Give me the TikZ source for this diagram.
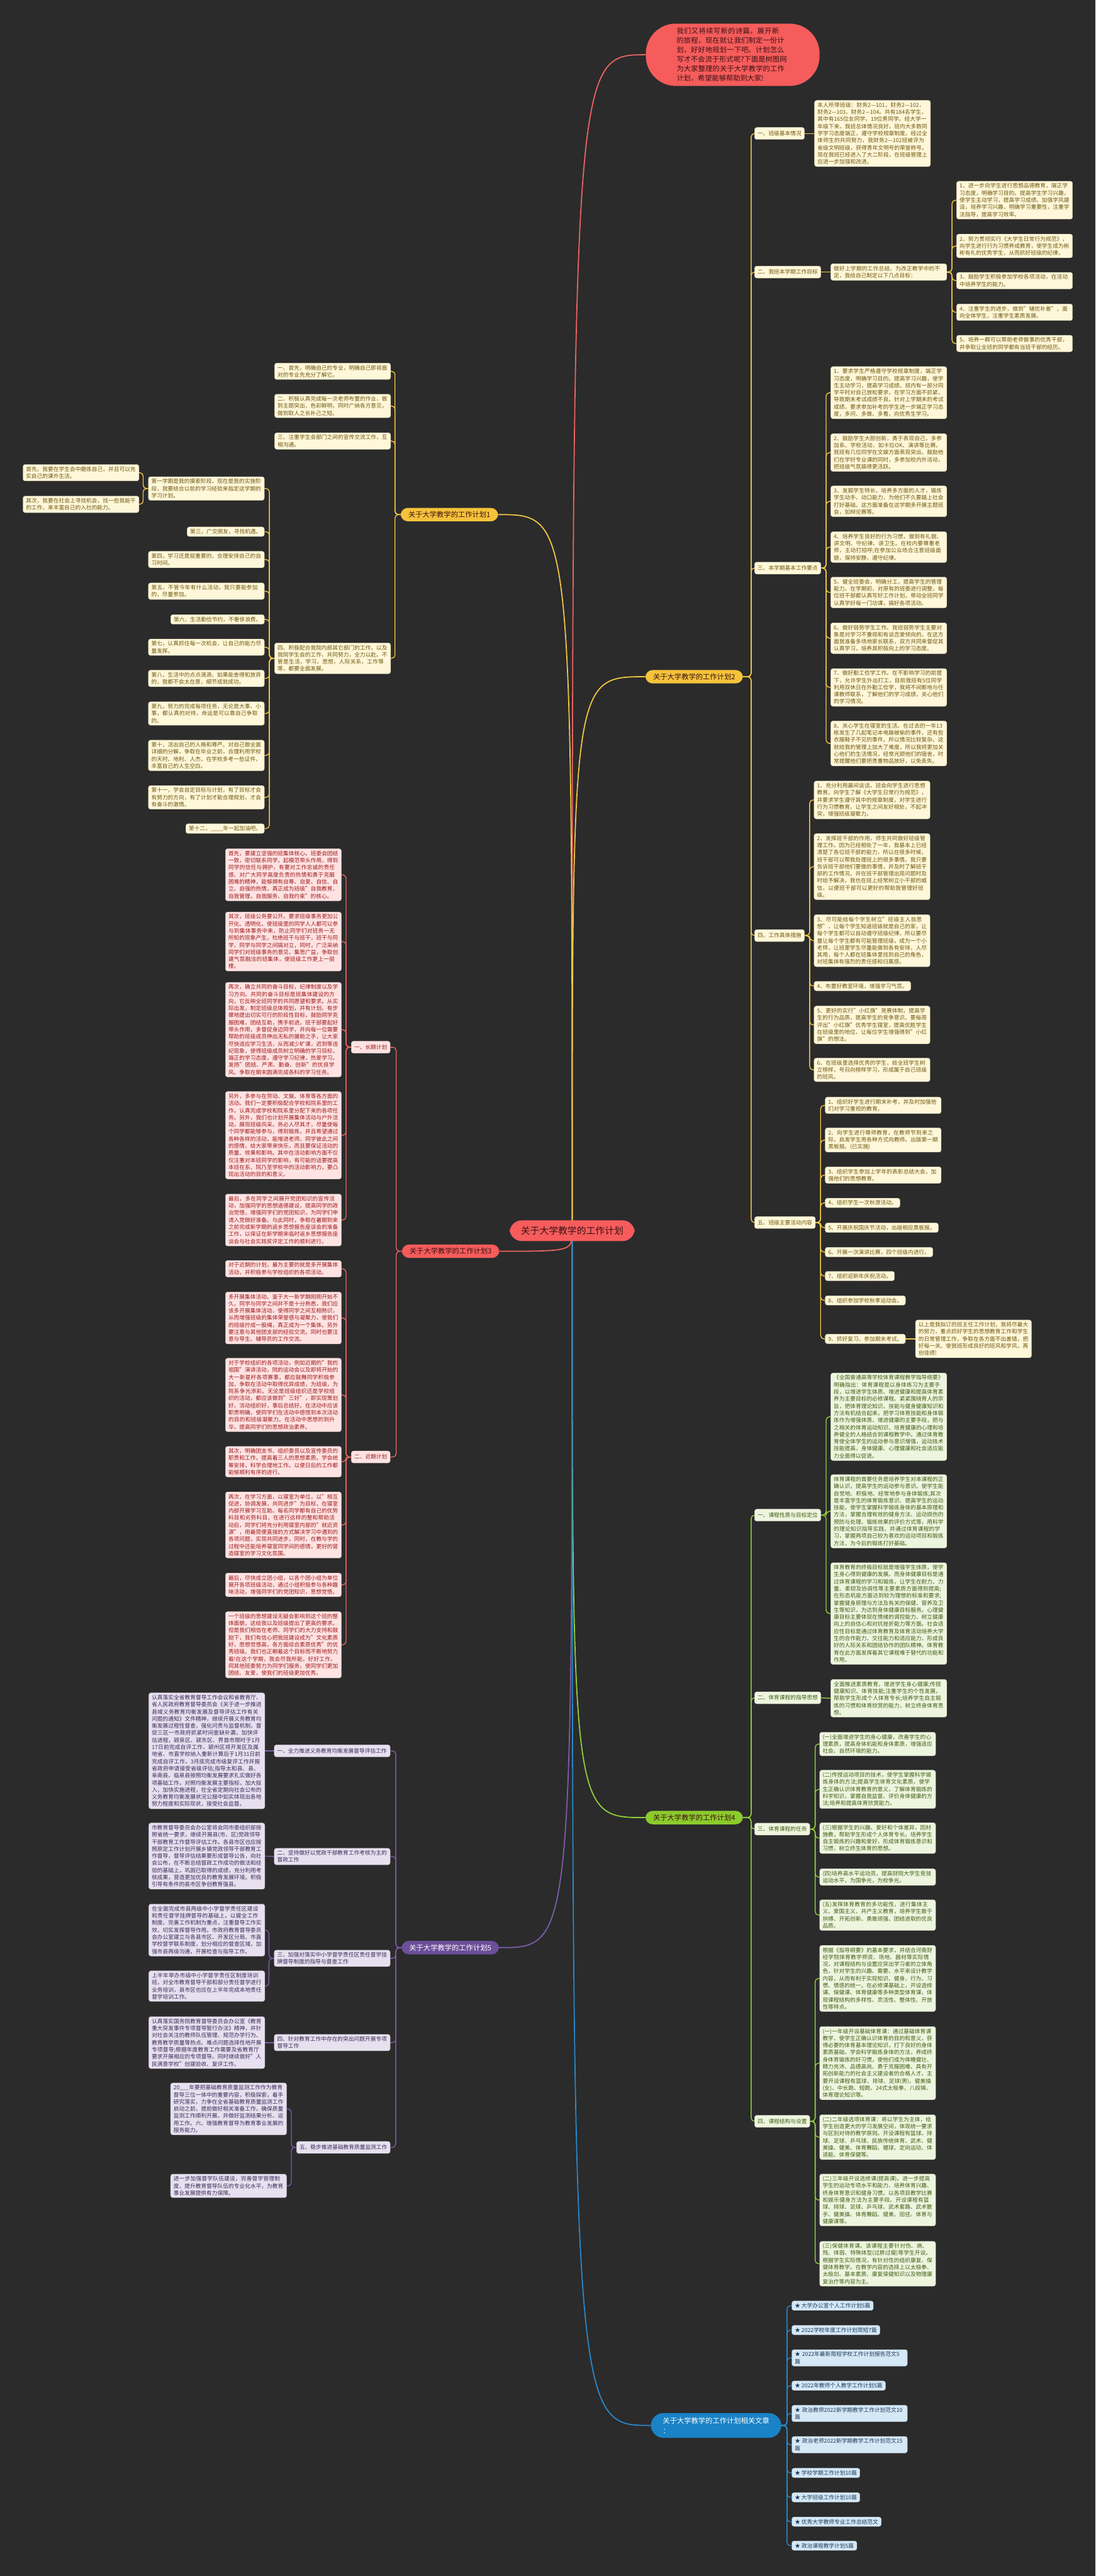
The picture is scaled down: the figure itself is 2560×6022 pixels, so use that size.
\documentclass[tikz,border=0pt]{standalone}
\usepackage{fontspec}
\setmainfont{Noto Sans CJK SC}
\XeTeXlinebreaklocale "zh"
\XeTeXlinebreakskip=0pt plus 1pt
\usepackage{tikz}
\usetikzlibrary{positioning, backgrounds}
\definecolor{bgdark}{HTML}{2B2B2B}
\definecolor{tyellow}{HTML}{F5C33B}
\definecolor{tyelline}{HTML}{F2C744}
\definecolor{tyellight}{HTML}{FFF7D9}
\definecolor{tyeltext}{HTML}{6E5710}
\definecolor{tred}{HTML}{F65C5C}
\definecolor{tredline}{HTML}{EC6464}
\definecolor{tredlight}{HTML}{FFE3E3}
\definecolor{tredtext}{HTML}{9E1B1B}
\definecolor{tdark}{HTML}{3A1010}
\definecolor{tgreen}{HTML}{8CCB2C}
\definecolor{tgreenline}{HTML}{93D03C}
\definecolor{tgreenlight}{HTML}{EEF5DF}
\definecolor{tgreentext}{HTML}{3F5E14}
\definecolor{tpurple}{HTML}{6B4F99}
\definecolor{tpurpleline}{HTML}{7C5EAA}
\definecolor{tpurplelight}{HTML}{E6E0EF}
\definecolor{tpurpletext}{HTML}{3B2B58}
\definecolor{tblue}{HTML}{1A82C6}
\definecolor{tblueline}{HTML}{2A88CC}
\definecolor{tbluelight}{HTML}{D5E8F6}
\definecolor{tbluetext}{HTML}{1C3A58}

\begin{document}
\begin{tikzpicture}[x=1pt, y=-1pt,
    leaf/.style={rounded corners=5pt, inner xsep=7pt, inner ysep=5pt, align=left, font=\fontsize{12.8}{16.6}\selectfont},
    wide/.style={text width=257pt},
    lab/.style={leaf, minimum height=28pt},
    yleaf/.style={leaf, fill=tyellight, text=tyeltext, draw=tyellight!85!black, line width=0.6pt},
    rleaf/.style={leaf, fill=tredlight, text=tredtext, draw=tredlight!85!black, line width=0.6pt},
    gleaf/.style={leaf, fill=tgreenlight, text=tgreentext, draw=tgreenlight!85!black, line width=0.6pt},
    pleaf/.style={leaf, fill=tpurplelight, text=tpurpletext, draw=tpurplelight!85!black, line width=0.6pt},
    bleaf/.style={leaf, fill=tbluelight, text=tbluetext, draw=tbluelight!85!black, line width=0.6pt},
    branch/.style={rounded corners=17pt, inner xsep=18pt, inner ysep=8pt, font=\fontsize{16.6}{20}\selectfont},
    link/.style={line width=2pt, rounded corners=8pt},
    mainlink/.style={line width=2.6pt}]

  \useasboundingbox (0,0) rectangle (2560,6022);

  % centre and intro
  \node[fill=tred, text=tdark, rounded corners=28pt, inner xsep=26pt, inner ysep=14pt, font=\fontsize{21.8}{26}\selectfont]
    (root) at (1337,2877) {关于大学教学的工作计划};
  \node[fill=tred, text=tdark, rounded corners=70pt, text width=262pt, inner xsep=72pt, inner ysep=10pt, align=left,
    font=\fontsize{16.5}{22}\selectfont, anchor=north west]
    (intro) at (1509,55) {我们又将续写新的诗篇，展开新的旅程，现在就让我们制定一份计划，好好地规划一下吧。计划怎么写才不会流于形式呢?下面是树图网为大家整理的关于大学教学的工作计划，希望能够帮助到大家!};

  % plan 1 (left, yellow)
  \node[branch, fill=tyellow, text=tdark, anchor=west] (plan1) at (936,1203) {关于大学教学的工作计划1};
  \node[yleaf, wide, anchor=east] (p1a) at (913,868) {一、首先，明确自己的专业，明确自己即将面对的专业先充分了解它。};
  \node[yleaf, wide, anchor=east] (p1b) at (913,949) {二、积极认真完成每一次老师布置的作业，做到主题突出，色彩鲜明，同时广纳各方意见，做到取人之长补己之短。};
  \node[yleaf, wide, anchor=east] (p1c) at (913,1031) {三、注重学生会部门之间的宣传交流工作，互相沟通。};
  \node[yleaf, wide, anchor=east] (p1d) at (913,1539) {四、积极配合我院内部其它部门的工作，以及我院学生会的工作，共同努力，全力以赴。不管是生活，学习，思想，人际关系，工作等等，都要全面发展。};
  \node[yleaf, wide, anchor=east] (p1d1) at (618,1142) {第一学期是我的摸索阶段，现在是我的实施阶段，我要结合以前的学习经验来指定这学期的学习计划。};
  \node[yleaf, anchor=east] (p1d2) at (618,1243) {第三，广交朋友，寻找机遇。};
  \node[yleaf, wide, anchor=east] (p1d3) at (618,1308) {第四，学习还是挺重要的，合理安排自己的自习时间。};
  \node[yleaf, wide, anchor=east] (p1d4) at (618,1382) {第五，不管今年有什么活动，我只要能参加的，尽量参加。};
  \node[yleaf, anchor=east] (p1d5) at (618,1448) {第六，生活勤俭节约，不奢侈浪费。};
  \node[yleaf, wide, anchor=east] (p1d6) at (618,1513) {第七，认真抓住每一次机会，让自己的能力尽量发挥。};
  \node[yleaf, wide, anchor=east] (p1d7) at (618,1586) {第八，生活中的点点滴滴，如果能舍得和放弃的，我都不会太在意，细节成就成功。};
  \node[yleaf, wide, anchor=east] (p1d8) at (618,1668) {第九，努力的完成每项任务，无论是大事、小事，都认真的对待，命运是可以靠自己争取的。};
  \node[yleaf, wide, anchor=east] (p1d9) at (618,1766) {第十，活出自己的人格和尊严。对自己做全面详细的分解，争取在毕业之前，合理利用学校的天时、地利、人杰，在学校多考一些证件，丰富自己的人生空白。};
  \node[yleaf, wide, anchor=east] (p1d10) at (618,1864) {第十一，学会自定目标与计划，有了目标才会有努力的方向，有了计划才能合理规划，才会有奋斗的激情。};
  \node[yleaf, anchor=east] (p1d11) at (618,1937) {第十二，\_\_\_\_年一起加油吧。};
  \node[yleaf, wide, anchor=east] (p1e) at (325,1105) {首先，我要在学生会中磨炼自己，并且可以充实自己的课外生活。};
  \node[yleaf, wide, anchor=east] (p1f) at (325,1179) {其次，我要在社会上寻找机会，找一些我能干的工作，来丰富自己的入社的能力。};

  % plan 2 (right, yellow)
  \node[branch, fill=tyellow, text=tdark, anchor=west] (plan2) at (1508,1582) {关于大学教学的工作计划2};
  \node[yleaf, lab, anchor=west] (p2a) at (1763,312) {一、班级基本情况};
  \node[yleaf, lab, anchor=west] (p2b) at (1763,636) {二、我班本学期工作目标};
  \node[yleaf, lab, anchor=west] (p2c) at (1763,1328) {三、本学期基本工作要点};
  \node[yleaf, lab, anchor=west] (p2d) at (1763,2187) {四、工作具体措施};
  \node[yleaf, lab, anchor=west] (p2e) at (1763,2858) {五、班级主要活动内容};
  \node[yleaf, wide, anchor=west] (p2a1) at (1903,312) {本人所带班级：财务2—101，财务2—102，财务2—103，财务2—104。共有184名学生，其中有165位女同学，19位男同学。经大学一年级下来，我班总体情况良好，班内大多数同学学习态度端正，遵守学校规章制度。经过全体师生的共同努力，我财务2—102班被评为省级文明班级，获得青年文明号的荣誉称号。现在我班已经进入了大二阶段，在班级管理上应进一步加强和改进。};
  \node[yleaf, wide, anchor=west] (p2b1) at (1941,636) {做好上学期的工作总结，为改正教学中的不足，我给自己制定以下几点目标：};
  \node[yleaf, wide, anchor=west] (p2g1) at (2235,468) {1、进一步向学生进行思想品德教育，端正学习态度，明确学习目的。提高学生学习兴趣，使学生主动学习，提高学习成绩。加强学风建设，培养学习兴趣，明确学习重要性，注重学法指导，提高学习效率。};
  \node[yleaf, wide, anchor=west] (p2g2) at (2235,575) {2、努力贯彻实行《大学生日常行为规范》，向学生进行行为习惯养成教育，使学生成为彬彬有礼的优秀学生，从而抓好班级的纪律。};
  \node[yleaf, wide, anchor=west] (p2g3) at (2235,656) {3、鼓励学生积极参加学校各项活动，在活动中培养学生的能力。};
  \node[yleaf, wide, anchor=west] (p2g4) at (2235,730) {4、注重学生的进步，做到"辅优补差"，面向全体学生，注重学生素质发展。};
  \node[yleaf, wide, anchor=west] (p2g5) at (2235,803) {5、培养一群可以帮助老师做事的优秀干部，并争取让全班的同学都有当班干部的经历。};
  \node[yleaf, wide, anchor=west] (p2c1) at (1941,918) {1、要求学生严格遵守学校规章制度，端正学习态度，明确学习目的。提高学习兴趣，使学生主动学习，提高学习成绩。班内有一部分同学平时对自己放松要求，在学习方面不抓紧，导致期末考试成绩不良。针对上学期末的考试成绩，要求参加补考的学生进一步端正学习态度，多问、多做、多看，向优秀生学习。};
  \node[yleaf, wide, anchor=west] (p2c2) at (1941,1058) {2、鼓励学生大胆创新，勇于表现自己，多参加系、学校活动，如卡拉OK、演讲等比赛。我班有几位同学在文娱方面表现突出，鼓励他们在学好专业课的同时，多参加校内外活动，把班级气氛搞得更活跃。};
  \node[yleaf, wide, anchor=west] (p2c3) at (1941,1172) {3、发掘学生特长，培养多方面的人才，锻炼学生动手、动口能力，为他们不久要踏上社会打好基础。这方面准备在这学期多开展主题班会，如辩论赛等。};
  \node[yleaf, wide, anchor=west] (p2c4) at (1941,1279) {4、培养学生良好的行为习惯，做到有礼貌、讲文明、守纪律、讲卫生。在校内要尊重老师，主动打招呼;在参加公众场合注意班级面貌，保持安静，遵守纪律。};
  \node[yleaf, wide, anchor=west] (p2c5) at (1941,1385) {5、健全班委会，明确分工，提高学生的管理能力。在学期初，对原有的班委进行调整，每位班干部都认真写好工作计划，带动全班同学认真学好每一门功课，搞好各项活动。};
  \node[yleaf, wide, anchor=west] (p2c6) at (1941,1492) {6、做好弱势学生工作。我班弱势学生主要对象是对学习不重视和有谈恋爱倾向的，在这方面我准备多场地家长联系，双方共同来督促其认真学习，培养其积极向上的学习态度。};
  \node[yleaf, wide, anchor=west] (p2c7) at (1941,1607) {7、做好勤工俭学工作。在不影响学习的前提下，允许学生外出打工，目前我班有5位同学利用双休日在外勤工俭学，我将不间断地与任课教师联系，了解他们的学习成绩，关心他们的学习情况。};
  \node[yleaf, wide, anchor=west] (p2c8) at (1941,1738) {8、关心学生在寝室的生活。在过去的一年13栋发生了几起笔记本电脑被偷的事件，还有些衣服鞋子不见的事件。所以情况比较复杂。这就给我的管理上加大了难度，所以我将更加关心他们的生活情况，经常光顾他们的宿舍，时常提醒他们要把贵重物品放好，以免丢失。};
  \node[yleaf, wide, anchor=west] (p2d1) at (1902,1870) {1、充分利用晨间谈话，班会向学生进行思想教育。向学生了解《大学生日常行为规范》，并要求学生遵守其中的规章制度，对学生进行行为习惯教育。让学生之间友好相处，不起冲突，增强班级凝聚力。};
  \node[yleaf, wide, anchor=west] (p2d2) at (1902,2026) {2、发挥班干部的作用，师生共同做好班级管理工作。因为已经相处了一年，我基本上已经清楚了各位班干部的能力，所以在很多时候，班干部可以帮我处理班上的很多事情。我只要告诉班干部他们要做的事情，并及时了解班干部的工作情况，并在班干部管理出现问题时及时给予解决，我也在班上经常树立小干部的威信，以便班干部可以更好的帮助我管理好班级。};
  \node[yleaf, wide, anchor=west] (p2d3) at (1902,2199) {3、尽可能给每个学生树立"班级主人翁思想"，让每个学生知道班级就是自己的家，让每个学生都可以自动遵守班级纪律，所以要尽量让每个学生都有可能管理班级，成为一个小老师，让班里学生尽量能做到各有安排，人尽其用，每个人都在班集体里找到自己的角色，对班集体有强烈的责任感和归属感。};
  \node[yleaf, anchor=west] (p2d4) at (1902,2305) {4、布置好教室环境，增强学习气氛。};
  \node[yleaf, wide, anchor=west] (p2d5) at (1902,2396) {5、更好的实行"小红旗"竞赛体制，提高学生的行为品质，提高学生的竞争意识。要每周评出"小红旗"优秀学生寝室，提高优胜学生在班级里的地位，让每位学生增强得到"小红旗"的想法。};
  \node[yleaf, wide, anchor=west] (p2d6) at (1902,2501) {6、在班级里选择优秀的学生，给全班学生树立榜样，号召向榜样学习，形成属于自己班级的班风。};
  \node[yleaf, wide, anchor=west] (p2e1) at (1928,2584) {1、组织好学生进行期末补考，并及时加强他们对学习重视的教育。};
  \node[yleaf, wide, anchor=west] (p2e2) at (1928,2665) {2、向学生进行尊师教育，在教师节到来之际，启发学生用各种方式向教师。出版第一期黑板报。(已实施)};
  \node[yleaf, wide, anchor=west] (p2e3) at (1928,2747) {3、组织学生参加上学年的表彰总结大会，加强他们的思想教育。};
  \node[yleaf, anchor=west] (p2e4) at (1928,2812) {4、组织学生一次秋游活动。};
  \node[yleaf, anchor=west] (p2e5) at (1928,2870) {5、开展庆祝国庆节活动，出版相应黑板报。};
  \node[yleaf, anchor=west] (p2e6) at (1928,2927) {6、开展一次演讲比赛，四个班级内进行。};
  \node[yleaf, anchor=west] (p2e7) at (1928,2983) {7、组织迎新年庆祝活动。};
  \node[yleaf, anchor=west] (p2e8) at (1928,3040) {8、组织参加学校秋季运动会。};
  \node[yleaf, anchor=west] (p2e9) at (1928,3130) {9、抓好复习，参加期末考试。};
  \node[yleaf, wide, anchor=west] (p2e9a) at (2139,3130) {以上是我拟订的班主任工作计划，我将尽最大的努力，重点抓好学生的思想教育工作和学生的日常管理工作，争取在各方面不出差错，把好每一关。使我班形成良好的班风和学风，再创佳绩!};

  % plan 3 (left, red)
  \node[branch, fill=tred, text=tdark, anchor=east] (plan3) at (1167,2925) {关于大学教学的工作计划3};
  \node[rleaf, lab, anchor=east] (p3a) at (912,2448) {一、长期计划};
  \node[rleaf, lab, anchor=east] (p3b) at (912,3406) {二、近期计划};
  \node[rleaf, wide, anchor=east] (p3a1) at (798,2045) {首先，要建立坚强的班集体核心。班委会团结一致，密切联系同学，起模范带头作用，得到同学的信任与拥护，有要对工作忠诚的责任感、对广大同学高度负责的热情和勇于克服困难的精神，能够拥有自尊、自爱、自信、自立、自强的热情，真正成为班级"自我教育，自我管理，自我服务、自我约束"的核心。};
  \node[rleaf, wide, anchor=east] (p3a2) at (798,2201) {其次，班级公务要公开。要求班级事务更加公开化、透明化，使班级里的同学人人都可以参与到集体事务中来，防止同学们对班务一无所知的现象产生，杜绝班干与班干，班干与同学，同学与同学之间搞对立，同时，广泛采纳同学们对班级事务的意见，集思广益，争取创建气氛融洽的班集体，使班级工作更上一层楼。};
  \node[rleaf, wide, anchor=east] (p3a3) at (798,2407) {再次，确立共同的奋斗目标，纪律制度以及学习方向。共同的奋斗目标是班集体建设的方向，它反映全班同学的共同愿望和要求。从实际出发，制定班级总体规划，并有计划、有步骤地提出切实可行的阶段性目标，鼓励同学克服困难，团结互助，携手前进。班干部要起好带头作用，多督促身边同学，并向每一位需要帮助的班级成员伸出无私的援助之手，让大家尽快适应学习生活，从而减少旷课，迟到等违纪现象，使得班级成员树立明确的学习目标，端正的学习态度，遵守学习纪律，热爱学习。发扬"团结、严肃、勤奋、创新"的优良学风。争取在期末圆满完成各科的学习任务。};
  \node[rleaf, wide, anchor=east] (p3a4) at (798,2654) {另外，多参与在劳动、文娱、体育等各方面的活动。我们一定要积极配合学校和院系里的工作，认真完成学校和院系里分配下来的各项任务。另外，我们也计划开展集体活动与户外活动，展现班级风采。务必人尽其才，尽量使每个同学都能够参与，得到锻炼，并且希望通过各种各样的活动，能增进老师、同学彼此之间的感情，给大家带来快乐，而且要保证活动的质量、效果和影响。其中在活动影响方面不仅仅注重对本班同学的影响，有可能的话要提高本班在系、院乃至学校中的活动影响力，要凸现出活动的目的和意义。};
  \node[rleaf, wide, anchor=east] (p3a5) at (798,2852) {最后，多在同学之间展开党团知识的宣传活动，加强同学的思想道德建设，提高同学的政治觉悟，增强同学们的党团知识，为同学们申请入党做好准备。与此同时，争取在暑期到来之前完成新学期的返乡思想报告座谈会的准备工作，以保证在新学期来临时返乡思想报告座谈会与社会实践奖评定工作的顺利进行。};
  \node[rleaf, wide, anchor=east] (p3b1) at (798,2966) {对于近期的计划，最为主要的就是多开展集体活动，并积极参与学校组织的各项活动。};
  \node[rleaf, wide, anchor=east] (p3b2) at (798,3081) {多开展集体活动。鉴于大一新学期刚刚开始不久，同学与同学之间并不是十分熟悉，我们应该多开展集体活动，使得同学之间互相熟识，从而增强班级的集体荣誉感与凝聚力，使我们的班级拧成一股绳，真正成为一个集体。另外要注意与其他团支部的经验交流，同时也要注意与导生、辅导员的工作交流。};
  \node[rleaf, wide, anchor=east] (p3b3) at (798,3261) {对于学校组织的各项活动，例如近期的"我的祖国"演讲活动，院的运动会以及即将开始的大一新星杯各项赛事，都应鼓舞同学积极参加，争取在活动中取得优异成绩，为班级，为院系争光添彩。无论是班级组织还是学校组织的活动，都应该做到"三好"，即实现策划好，活动组织好，事后总结好。在活动中应该职责明确，使同学们在活动中感悟到本次活动的目的和班级凝聚力。在活动中思想的到升华，提高同学们的思想政治素养。};
  \node[rleaf, wide, anchor=east] (p3b4) at (798,3417) {其次，明确团支书、组织委员以及宣传委员的职责和工作。提高着三人的思想素质。学会统筹安排，科学合理地工作。以便日后的工作都能够顺利有序的进行。};
  \node[rleaf, wide, anchor=east] (p3b5) at (798,3565) {再次，在学习方面，以寝室为单位，以"相互促进，协调发展，共同进步"为目标，在寝室内部开展学习互助。每名同学都有自己的优势科目和劣势科目，在进行这样的整和帮助活动后，同学们将充分利用寝室内部的"就近资源"，用最简便直接的方式解决学习中遇到的各项问题，实现共同进步。同时，在教与学的过程中还能培养寝室同学间的感情，更好的营造寝室的学习文化氛围。};
  \node[rleaf, wide, anchor=east] (p3b6) at (798,3705) {最后，尽快成立团小组，以各个团小组为单位展开各项班级活动，通过小组积极参与各种趣味活动，增强同学们的党团知识，思想觉悟。};
  \node[rleaf, wide, anchor=east] (p3b7) at (798,3845) {一个班级的思想建设无疑会影响到这个班的整体面貌，这给我以及班级提出了更高的要求。但是我们相信在老师、同学们的大力支持和鼓励下，我们有信心把我班建设成为"文化素质好，思想觉悟高，各方面综合素质优秀"的优秀班级。我们也正朝着这个目标而不断地努力着!在这个学期，我会尽我所能，好好工作，同其他班委努力为同学们服务，使同学们更加团结、友爱，使我们的班级更加优秀。};

  % plan 4 (right, green)
  \node[branch, fill=tgreen, text=tdark, anchor=west] (plan4) at (1508,4249) {关于大学教学的工作计划4};
  \node[gleaf, lab, anchor=west] (p4a) at (1763,3542) {一、课程性质与目标定位};
  \node[gleaf, lab, anchor=west] (p4b) at (1763,3969) {二、体育课程的指导思想};
  \node[gleaf, lab, anchor=west] (p4c) at (1763,4276) {三、体育课程的任务};
  \node[gleaf, lab, anchor=west] (p4d) at (1763,4959) {四、课程结构与设置};
  \node[gleaf, wide, anchor=west] (p4a1) at (1941,3312) {《全国普通高等学校体育课程教学指导纲要》明确指出：体育课程是以身体练习为主要手段，以增进学生体质、增进健康和提高体育素养为主要目标的必修课程。紧紧围绕育人的宗旨，把体育理论知识、技能与健身健康知识和方法有机结合起来，把学习体育技能和身体锻炼作为增强体质、增进健康的主要手段，把与之相关的体育运动知识、培育健康的心理和培养健全的人格结合到课程教学中。通过体育教育使全体学生的运动参与意识增强，运动技术技能提高，身体健康、心理健康和社会适应能力全面得以促进。};
  \node[gleaf, wide, anchor=west] (p4a2) at (1941,3533) {体育课程的首要任务是培养学生对本课程的正确认识，提高学生的运动参与意识。使学生能自觉地、积极地、经常地参与身体锻炼;其次是丰富学生的体育锻炼意识、提高学生的运动技能，使学生掌握科学锻炼身体的基本原理和方法，掌握合理有效的健身方法、运动损伤的预防与处理、锻炼效果的评价方式等，用科学的理论知识指导实践，并通过体育课程的学习，掌握两项自己较为喜欢的运动项目和锻炼方法，为今后的锻炼打好基础。};
  \node[gleaf, wide, anchor=west] (p4a3) at (1941,3772) {体育教育的终极目标就是增强学生体质，使学生身心得到健康的发展。而身体健康目标是通过体育课程的学习和锻炼，让学生在耐力、力量、柔韧及协调性等主要素质方面得到提高;在形态机能方面达到较为理想的标准和要求;掌握健身原理与方法及有关的保健、营养及卫生等知识，为达到身体健康目标服务。心理健康目标主要体现在情绪的调控能力、树立健康向上的自信心和对抗挫折能力等方面。社会适应性目标是通过体育教育及体育活动培养大学生的合作能力、交往能力和适应能力，形成良好的人际关系和团结协作的团队精神。体育教育在此方面发挥着其它课程难于替代的功能和作用。};
  \node[gleaf, wide, anchor=west] (p4b1) at (1941,3970) {全面推进素质教育，增进学生身心健康;传授健康知识、体育技能;注重学生的个性发展，帮助学生形成个人体育专长;培养学生自主锻炼的习惯和体育欣赏的能力，树立终身体育思想。};
  \node[gleaf, wide, anchor=west] (p4c1) at (1915,4077) {(一)全面增进学生的身心健康，改善学生的心理素质，提高身体机能和身体素质，增强适应社会、自然环境的能力。};
  \node[gleaf, wide, anchor=west] (p4c2) at (1915,4183) {(二)传授运动项目的技术，使学生掌握科学锻炼身体的方法;提高学生体育文化素质，使学生正确认识体育教育的意义，了解体育锻炼的科学知识，掌握自我监督、评价身体健康的方法;培养和提高体育欣赏能力。};
  \node[gleaf, wide, anchor=west] (p4c3) at (1915,4297) {(三)根据学生的兴趣、爱好和个体差异，因材施教，帮助学生形成个人体育专长。培养学生自主锻炼的兴趣和爱好，形成体育锻炼意识和习惯，树立终生体育的思想。};
  \node[gleaf, wide, anchor=west] (p4c4) at (1915,4388) {(四)培养高水平运动员，提高财院大学生竞技运动水平，为国争光，为校争光。};
  \node[gleaf, wide, anchor=west] (p4c5) at (1915,4477) {(五)发挥体育教育的多功能性，进行集体主义、爱国主义、共产主义教育，培养学生敢于拚搏、开拓创新、勇敢顽强、团结进取的优良品质。};
  \node[gleaf, wide, anchor=west] (p4d1) at (1915,4625) {根据《指导纲要》的基本要求，并结合河南财经学院体育教学师资、场地、器材等实际情况，对课程结构与设置应突出学习者的立体角色，针对学生的兴趣、需要、水平来设计教学内容，从而有利于实现知识、健身、行为、习惯、情感的统一。在必修课基础上，开设选修课、保健课、体育健康等多种类型体育课，体现课程结构的多样性、灵活性、整体性、开放性等特点。};
  \node[gleaf, wide, anchor=west] (p4d2) at (1915,4823) {(一)一年级开设基础体育课：通过基础体育课教学，使学生正确认识体育的目的和意义，获得必要的体育基本理论知识，打下良好的身体素质基础，学会科学锻炼身体的方法，养成终身体育锻炼的好习惯，使他们成为体魄健壮、精力充沛、品德高尚、勇于克服困难、具有开拓创新能力的社会主义建设者的合格人才。主要开设课程有篮球、排球、足球(男)、健美操(女)、中长跑、短跑、24式太极拳、八段锦、体育理论知识等。};
  \node[gleaf, wide, anchor=west] (p4d3) at (1915,4996) {(二)二年级选项体育课：将以学生为主体，给学生创造更大的学习发展空间，体现统一要求与区别对待的教学原则。开设课程有篮球、排球、足球、乒乓球、民族传统体育、武术、健美操、健美、体育舞蹈、毽球、定向运动、体适能、体育保健等。};
  \node[gleaf, wide, anchor=west] (p4d4) at (1915,5143) {(二)三年级开设选修课(提高课)。进一步提高学生的运动专项水平和能力、培养体育兴趣、终身体育意识和健身习惯。以各项目教学比赛和娱乐健身方法为主要手段。开设课程有篮球、排球、足球、乒乓球、武术套路、武术散手、健美操、体育舞蹈、健美、田径、体育与健康课等。};
  \node[gleaf, wide, anchor=west] (p4d5) at (1915,5292) {(三)保健体育课。该课程主要针对伤、病、残、体弱、特殊体型(过胖过瘦)等学生开设。根据学生实际情况，有针对性的组织康复、保健体育教学。在教学内容的选择上以太极拳、太极剑、基本素质、康复保健知识以及物理康复治疗等内容为主。};

  % plan 5 (left, purple)
  \node[branch, fill=tpurple, text=white, anchor=west] (plan5) at (938,4553) {关于大学教学的工作计划5};
  \node[pleaf, lab, wide, anchor=east] (p5a) at (912,4093) {一、全力推进义务教育均衡发展督导评估工作};
  \node[pleaf, lab, wide, anchor=east] (p5b) at (912,4340) {二、坚持做好以党政干部教育工作考核为主的督政工作};
  \node[pleaf, lab, wide, anchor=east] (p5c) at (912,4578) {三、加强对落实中小学督学责任区责任督学挂牌督导制度的指导与督查工作};
  \node[pleaf, lab, wide, anchor=east] (p5d) at (912,4775) {四、针对教育工作中存在的突出问题开展专项督导工作};
  \node[pleaf, lab, anchor=east] (p5e) at (912,5020) {五、稳步推进基础教育质量监测工作};
  \node[pleaf, wide, anchor=east] (p5a1) at (619,4093) {认真落实全省教育督导工作会议和省教育厅、省人民政府教育督导委员会《关于进一步推进县域义务教育均衡发展及督导评估工作有关问题的通知》文件精神，继续开展义务教育均衡发展过程性督查，强化问责与监督机制，督促三区一市政府抓紧时间查缺补漏，加快评估进程，颍泉区、颍东区、界首市限时于1月17日前完成自评工作，颍州区将开发区及属地省、市直学校纳入重新计算后于1月31日前完成自评工作，3月底完成市级复评工作并报省政府申请接受省级评估;指导太和县、县、阜南县、临泉县按照均衡发展要求扎实做好各项基础工作，对照均衡发展主要指标，加大投入，加快实施进程，在全省定期向社会公布的义务教育均衡发展状况公报中如实体现出各地努力程度和实际现状，接受社会监督。};
  \node[pleaf, wide, anchor=east] (p5b1) at (619,4339) {市教育督导委员会办公室将会同市委组织部按照省统一要求，继续开展县(市、区)党政领导干部教育工作督导评估工作。各县市区也应按照原定工作计划开展乡镇党政领导干部教育工作督导，督导评估结果要形成督导公告，向社会公布，在不断总结督政工作成功的做法和经验的基础上，巩固已取得的成绩，充分利用考核成果，营造更加优良的教育发展环境。积极引导有条件的县市区争创教育强县。};
  \node[pleaf, wide, anchor=east] (p5c1) at (619,4512) {在全面完成市县两级中小学督学责任区建设和责任督学挂牌督导的基础上，以健全工作制度、完善工作机制为重点，注重督导工作实效，切实发挥督导作用。市政府教育督导委员会办公室建立与各县市区、开发区分局、市直学校督学联系制度，划分相应的督查区域，加强市县两级沟通，开展检查与指导工作。};
  \node[pleaf, wide, anchor=east] (p5c2) at (619,4643) {上半年举办市级中小学督学责任区制度培训班，对全市教育督导干部和部分责任督学进行业务培训，县市区也应在上半年完成本地责任督学培训工作。};
  \node[pleaf, wide, anchor=east] (p5d1) at (619,4775) {认真落实国务院教育督导委员会办公室《教育重大突发事件专项督导暂行办法》精神，并针对社会关注的教师队伍管理、规范办学行为、教育教学质量等热点、难点问题选择性地开展专项督导;根据年度教育工作需要及省教育厅要求开展相应的专项督导。同时继续做好"人民满意学校"创建验收、复评工作。};
  \node[pleaf, wide, anchor=east] (p5e1) at (670,4930) {20\_\_\_年要把基础教育质量监测工作作为教育督导三位一体中的重要内容，积极探索，着手研究落实，力争在全省基础教育质量监测工作启动之前，提前做好相关准备工作，确保质量监测工作顺利开展，并做好监测结果分析、运用工作。六、增强教育督导为教育事业发展的服务能力。};
  \node[pleaf, wide, anchor=east] (p5e2) at (670,5110) {进一步加强督学队伍建设，完善督学管理制度，提升教育督导队伍的专业化水平，为教育事业发展提供有力保障。};

  % related articles (right, blue)
  \node[fill=tblue, text=white, rounded corners=30pt, inner xsep=28pt, inner ysep=10pt, align=left,
    font=\fontsize{16.6}{24}\selectfont, anchor=east] (links) at (1826,5670) {关于大学教学的工作计划相关文章\\：};
  \node[bleaf, anchor=west] (r1) at (1850,5390) {★ 大学办公室个人工作计划5篇};
  \node[bleaf, anchor=west] (r2) at (1850,5447) {★ 2022学校年度工作计划简短7篇};
  \node[bleaf, anchor=west, text width=256pt] (r3) at (1850,5512) {★ 2022年最新简短学校工作计划报告范文5\\篇};
  \node[bleaf, anchor=west] (r4) at (1850,5577) {★ 2022年教师个人教学工作计划5篇};
  \node[bleaf, anchor=west, text width=256pt] (r5) at (1850,5642) {★ 政治教师2022新学期教学工作计划范文10\\篇};
  \node[bleaf, anchor=west, text width=256pt] (r6) at (1850,5715) {★ 政治老师2022新学期教学工作计划范文15\\篇};
  \node[bleaf, anchor=west] (r7) at (1850,5781) {★ 学校学期工作计划10篇};
  \node[bleaf, anchor=west] (r8) at (1850,5838) {★ 大学班级工作计划10篇};
  \node[bleaf, anchor=west] (r9) at (1850,5895) {★ 优秀大学教师专业工作总结范文};
  \node[bleaf, anchor=west] (r10) at (1850,5951) {★ 政治课程教学计划5篇};

  \begin{scope}[on background layer]
    \fill[bgdark] (0,0) rectangle (2560,6022);
    % from the centre
    \draw[mainlink, tredline] (root.center) .. controls (root.center |- intro.west) .. (intro.west);
    \draw[mainlink, tyelline] (root.center) .. controls (root.center |- plan1.east) .. (plan1.east);
    \draw[mainlink, tyelline] (root.center) .. controls (root.center |- plan2.west) .. (plan2.west);
    \draw[mainlink, tredline] (root.center) .. controls (root.center |- plan3.east) .. (plan3.east);
    \draw[mainlink, tgreenline] (root.center) .. controls (root.center |- plan4.west) .. (plan4.west);
    \draw[mainlink, tpurpleline] (root.center) .. controls (root.center |- plan5.east) .. (plan5.east);
    \draw[mainlink, tblueline] (root.center) .. controls (root.center |- links.west) .. (links.west);
    % plan 1
    \foreach \n in {p1a,p1b,p1c,p1d}
      \draw[link, tyelline] (plan1.west) -- ++(-13,0) |- (\n.east);
    \foreach \n in {p1d1,p1d2,p1d3,p1d4,p1d5,p1d6,p1d7,p1d8,p1d9,p1d10,p1d11}
      \draw[link, tyelline] (p1d.west) -- ++(-12,0) |- (\n.east);
    \foreach \n in {p1e,p1f}
      \draw[link, tyelline] (p1d1.west) -- ++(-12,0) |- (\n.east);
    % plan 2
    \foreach \n in {p2a,p2b,p2c,p2d,p2e}
      \draw[link, tyelline] (plan2.east) -- ++(19,0) |- (\n.west);
    \draw[link, tyelline] (p2a.east) -- (p2a1.west);
    \draw[link, tyelline] (p2b.east) -- (p2b1.west);
    \foreach \n in {p2g1,p2g2,p2g3,p2g4,p2g5}
      \draw[link, tyelline] (p2b1.east) -- ++(12,0) |- (\n.west);
    \foreach \n in {p2c1,p2c2,p2c3,p2c4,p2c5,p2c6,p2c7,p2c8}
      \draw[link, tyelline] (p2c.east) -- ++(12,0) |- (\n.west);
    \foreach \n in {p2d1,p2d2,p2d3,p2d4,p2d5,p2d6}
      \draw[link, tyelline] (p2d.east) -- ++(12,0) |- (\n.west);
    \foreach \n in {p2e1,p2e2,p2e3,p2e4,p2e5,p2e6,p2e7,p2e8,p2e9}
      \draw[link, tyelline] (p2e.east) -- ++(12,0) |- (\n.west);
    \draw[link, tyelline] (p2e9.east) -- (p2e9a.west);
    % plan 3
    \foreach \n in {p3a,p3b}
      \draw[link, tredline] (plan3.west) -- ++(-13,0) |- (\n.east);
    \foreach \n in {p3a1,p3a2,p3a3,p3a4,p3a5}
      \draw[link, tredline] (p3a.west) -- ++(-12,0) |- (\n.east);
    \foreach \n in {p3b1,p3b2,p3b3,p3b4,p3b5,p3b6,p3b7}
      \draw[link, tredline] (p3b.west) -- ++(-12,0) |- (\n.east);
    % plan 4
    \foreach \n in {p4a,p4b,p4c,p4d}
      \draw[link, tgreenline] (plan4.east) -- ++(19,0) |- (\n.west);
    \foreach \n in {p4a1,p4a2,p4a3}
      \draw[link, tgreenline] (p4a.east) -- ++(12,0) |- (\n.west);
    \draw[link, tgreenline] (p4b.east) -- (p4b1.west);
    \foreach \n in {p4c1,p4c2,p4c3,p4c4,p4c5}
      \draw[link, tgreenline] (p4c.east) -- ++(12,0) |- (\n.west);
    \foreach \n in {p4d1,p4d2,p4d3,p4d4,p4d5}
      \draw[link, tgreenline] (p4d.east) -- ++(12,0) |- (\n.west);
    % plan 5
    \foreach \n in {p5a,p5b,p5c,p5d,p5e}
      \draw[link, tpurpleline] (plan5.west) -- ++(-13,0) |- (\n.east);
    \draw[link, tpurpleline] (p5a.west) -- (p5a1.east);
    \draw[link, tpurpleline] (p5b.west) -- (p5b1.east);
    \foreach \n in {p5c1,p5c2}
      \draw[link, tpurpleline] (p5c.west) -- ++(-12,0) |- (\n.east);
    \draw[link, tpurpleline] (p5d.west) -- (p5d1.east);
    \foreach \n in {p5e1,p5e2}
      \draw[link, tpurpleline] (p5e.west) -- ++(-12,0) |- (\n.east);
    % related
    \foreach \n in {r1,r2,r3,r4,r5,r6,r7,r8,r9,r10}
      \draw[link, tblueline] (links.east) -- ++(13,0) |- (\n.west);
  \end{scope}
\end{tikzpicture}
\end{document}
